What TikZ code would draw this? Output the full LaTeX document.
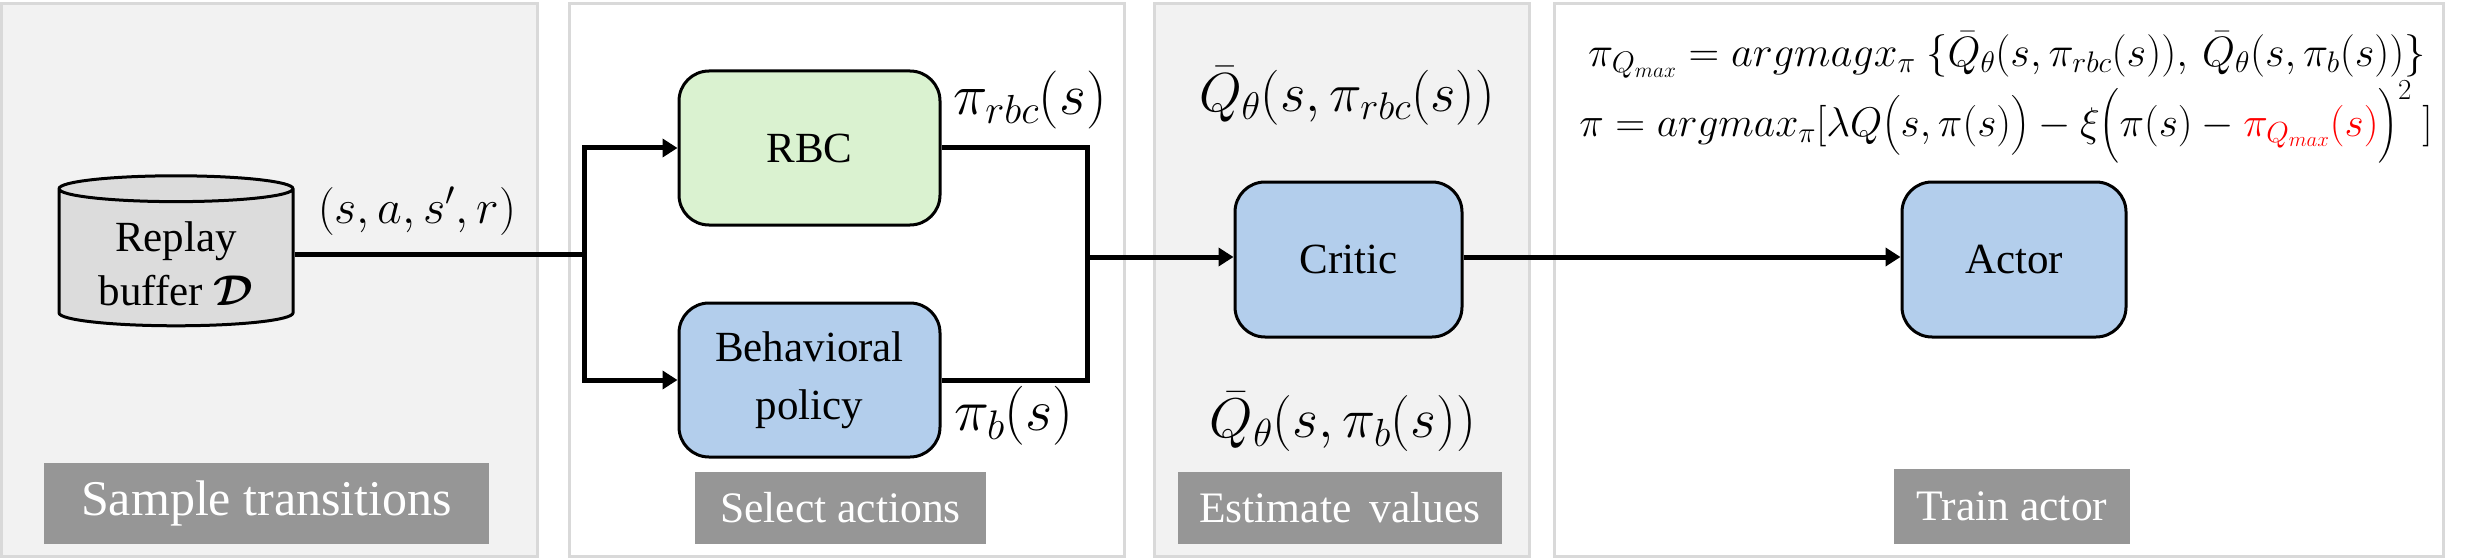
\documentclass[tikz,border=0pt]{standalone}
\usepackage{fix-cm}
\usepackage{amsmath}
\usepackage{fontspec}
\setmainfont{Liberation Serif}
\usetikzlibrary{arrows.meta,shapes.geometric}
\definecolor{panelgray}{HTML}{F2F2F2}
\definecolor{panelline}{HTML}{D9D9D9}
\definecolor{taggray}{HTML}{969696}
\definecolor{bufgray}{HTML}{DCDCDC}
\definecolor{rbcgreen}{HTML}{DAF2D0}
\definecolor{netblue}{HTML}{B3CEEC}
\newcommand{\qbar}{\bar{Q}_{\theta}}
\tikzset{
  panel/.style={draw=panelline,line width=3pt,inner sep=0pt},
  tag/.style={fill=taggray,text=white,inner sep=0pt},
  block/.style={draw,line width=3pt,rounded corners=30pt,inner sep=0pt,align=center,
    font=\fontsize{43}{58}\selectfont},
  link/.style={line width=5pt},
  linkarrow/.style={line width=5pt,-{Triangle[length=15pt,width=18pt]}},
}
\begin{document}
\begin{tikzpicture}[x=1pt,y=-1pt]
      \useasboundingbox (0, 0) rectangle (2481, 559);
      \node[panel, fill=panelgray, minimum width=536pt, minimum height=553pt] (p1) at (269, 280) {};
      \node[panel, fill=white, minimum width=555pt, minimum height=553pt] (p2) at (846.5, 280) {};
      \node[panel, fill=panelgray, minimum width=375pt, minimum height=553pt] (p3) at (1341.5, 280) {};
      \node[panel, fill=white, minimum width=889pt, minimum height=553pt] (p4) at (1998.5, 280) {};
      \node[tag, minimum width=445pt, minimum height=81pt, font=\fontsize{50}{60}\selectfont] (t1) at (266.5, 503.5) {Sample transitions};
      \node[tag, minimum width=291pt, minimum height=72pt, font=\fontsize{43.5}{52}\selectfont] (t2) at (840.5, 508) {Select actions};
      \node[tag, minimum width=324pt, minimum height=72pt, font=\fontsize{43.5}{52}\selectfont] (t3) at (1340, 508) {Estimate\, values};
      \node[tag, minimum width=236pt, minimum height=75pt, font=\fontsize{43.5}{52}\selectfont] (t4) at (2012, 506.5) {Train actor};
      \node[cylinder, shape border rotate=90, aspect=0.167, draw, line width=3pt, fill=bufgray, minimum width=234pt, minimum height=150pt, inner sep=0pt, align=center, font=\fontsize{43}{54}\selectfont] (buffer) at (176, 258) {\rule{0pt}{42pt}Replay\\buffer $\boldsymbol{\mathcal{D}}$};
      \node[block, fill=rbcgreen, minimum width=261pt, minimum height=154pt] (rbc) at (809.5, 148) {RBC};
      \node[block, fill=netblue, minimum width=261pt, minimum height=154pt] (beh) at (809.5, 380) {Behavioral\\policy};
      \node[block, fill=netblue, minimum width=227pt, minimum height=155pt] (critic) at (1348.5, 259.5) {Critic};
      \node[block, fill=netblue, minimum width=224pt, minimum height=155pt] (actor) at (2014, 259.5) {Actor};
      \node[font=\fontsize{48}{50}\selectfont] (lsars) at (417, 211) {$(s,a,s',r)$};
      \node[font=\fontsize{58}{60}\selectfont] (lrbc) at (1030, 100) {$\pi_{rbc}(s)$};
      \node[font=\fontsize{59}{60}\selectfont] (lb) at (1014, 416) {$\pi_{b}(s)$};
      \node[font=\fontsize{55}{60}\selectfont] (qrbc) at (1347, 96) {$\qbar(s,\pi_{rbc}(s))$};
      \node[font=\fontsize{56}{60}\selectfont] (qb) at (1343, 422) {$\qbar(s,\pi_{b}(s))$};
      \node[font=\fontsize{42.5}{48}\selectfont] (eqmax) at (2007, 55) {$\pi_{Q_{max}} = argmagx_{\pi}\ \{\qbar(s,\pi_{rbc}(s)),\, \qbar(s,\pi_{b}(s))\}$};
      \node[font=\fontsize{41.5}{48}\selectfont] (eqpi) at (2006, 122) {$\pi = argmax_{\pi}[\lambda Q\bigl(s,\pi(s)\bigr) - \xi\Bigl(\pi(s) - \textcolor{red}{\pi_{Q_{max}}(s)}\Bigr)^{2}\ ]$};
      \coordinate (split) at (584, 254);
      \coordinate (merge) at (1087, 257);
      \draw[link] (buffer.east |- split) -- (split);
      \draw[linkarrow] (split) |- (rbc.west);
      \draw[linkarrow] (split) |- (beh.west);
      \draw[link] (rbc.east) -| (merge);
      \draw[link] (beh.east) -| (merge);
      \draw[linkarrow] (merge) -- (merge -| critic.west);
      \draw[linkarrow] (critic.east |- merge) -- (merge -| actor.west);
    \end{tikzpicture}
\end{document}
